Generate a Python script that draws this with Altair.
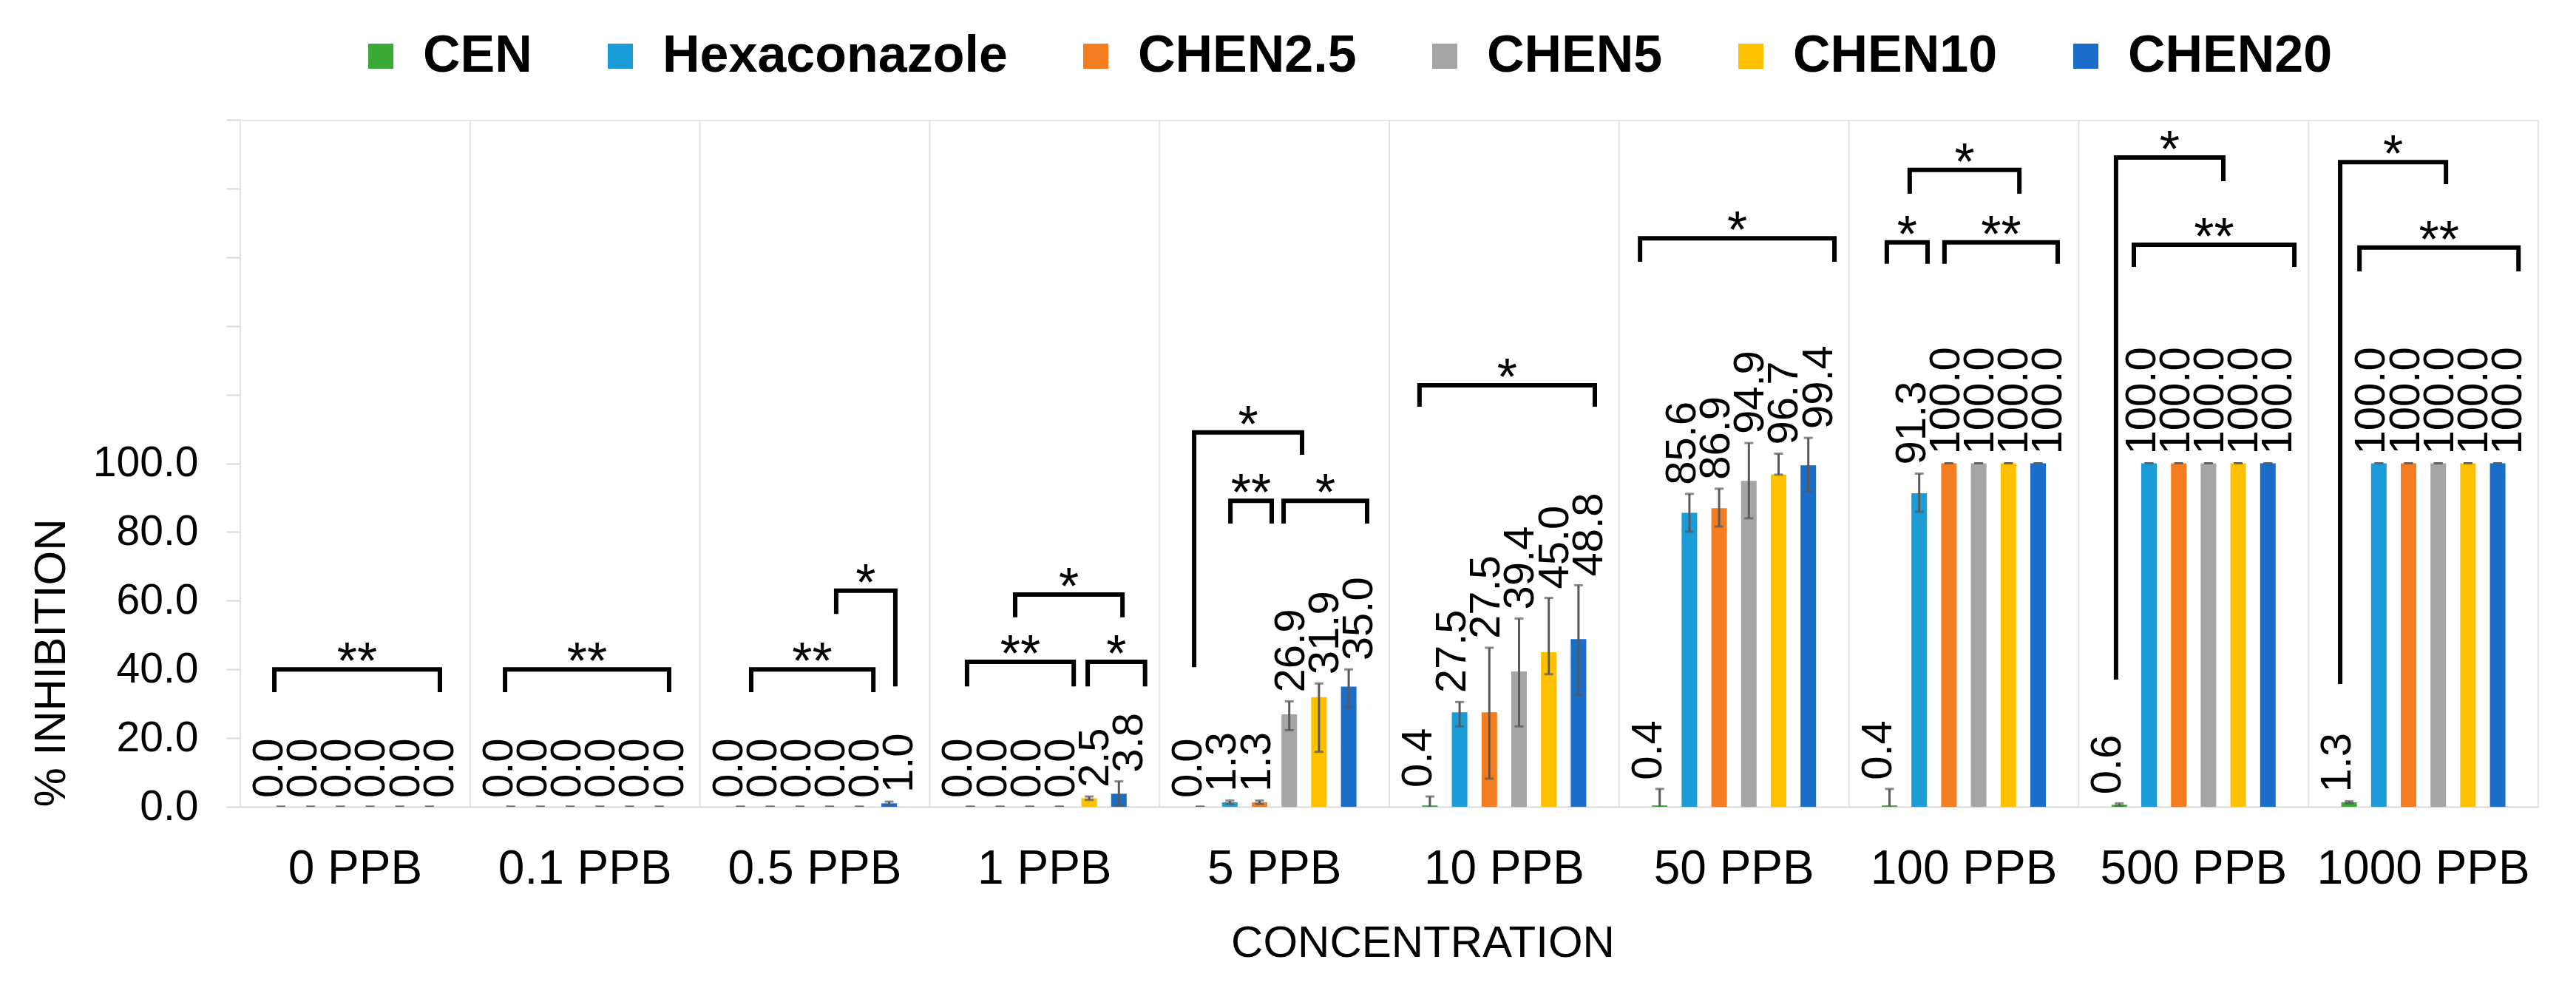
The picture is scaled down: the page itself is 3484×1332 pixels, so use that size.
import altair as alt
import pandas as pd

# ---------------- data ----------------
concentrations = ["0 PPB", "0.1 PPB", "0.5 PPB", "1 PPB", "5 PPB", "10 PPB",
                  "50 PPB", "100 PPB", "500 PPB", "1000 PPB"]
series = ["CEN", "Hexaconazole", "CHEN2.5", "CHEN5", "CHEN10", "CHEN20"]
colors = ["#3BA936", "#1B9BD8", "#F47D22", "#A5A5A5", "#FFC000", "#1A6EC8"]

cen     = [0.0, 0.0, 0.0, 0.0, 0.0, 0.4, 0.4, 0.4, 0.6, 1.3]
hexa    = [0.0, 0.0, 0.0, 0.0, 1.3, 27.5, 85.6, 91.3, 100.0, 100.0]
chen2_5 = [0.0, 0.0, 0.0, 0.0, 1.3, 27.5, 86.9, 100.0, 100.0, 100.0]
chen5   = [0.0, 0.0, 0.0, 0.0, 26.9, 39.4, 94.9, 100.0, 100.0, 100.0]
chen10  = [0.0, 0.0, 0.0, 2.5, 31.9, 45.0, 96.7, 100.0, 100.0, 100.0]
chen20  = [0.0, 0.0, 1.0, 3.8, 35.0, 48.8, 99.4, 100.0, 100.0, 100.0]

# error bar extents (upper / lower amounts)
cen_up     = [0, 0, 0, 0, 0, 2.6, 4.8, 4.8, 0.4, 0.3]
cen_dn     = [0, 0, 0, 0, 0, 2.6, 4.8, 4.8, 0.4, 0.3]
hexa_up    = [0, 0, 0, 0, 0.5, 3.0, 5.5, 5.7, 0, 0]
hexa_dn    = [0, 0, 0, 0, 0.5, 4.1, 5.5, 5.4, 0, 0]
chen2_5_up = [0, 0, 0, 0, 0.5, 18.8, 5.7, 0, 0, 0]
chen2_5_dn = [0, 0, 0, 0, 0.5, 19.3, 5.3, 0, 0, 0]
chen5_up   = [0, 0, 0, 0, 3.8, 15.4, 11.0, 0, 0, 0]
chen5_dn   = [0, 0, 0, 0, 4.6, 16.0, 10.9, 0, 0, 0]
chen10_up  = [0, 0, 0, 0.5, 4.0, 15.8, 6.1, 0, 0, 0]
chen10_dn  = [0, 0, 0, 0.5, 15.9, 6.4, 0, 0, 0, 0]
chen20_up  = [0, 0, 0.5, 3.6, 5.0, 15.7, 8.0, 0, 0, 0]
chen20_dn  = [0, 0, 0.5, 3.6, 6.0, 16.3, 7.6, 0, 0, 0]

# significance brackets (series-index units for the legs, % units for heights)
br_conc      = ["0 PPB", "0.1 PPB", "0.5 PPB", "0.5 PPB", "1 PPB", "1 PPB", "1 PPB",
                "5 PPB", "5 PPB", "5 PPB", "10 PPB", "50 PPB",
                "100 PPB", "100 PPB", "100 PPB", "500 PPB", "500 PPB", "1000 PPB", "1000 PPB"]
br_left      = [-0.22, -0.19, 0.36, 3.22, -0.11, 3.95, 1.51,
                -0.20, 1.02, 2.81, -0.35, -0.66,
                -0.09, 1.85, 0.68, -0.11, 0.49, -0.30, 0.35]
br_right     = [5.35, 5.33, 4.47, 5.21, 3.48, 5.88, 5.12,
                3.43, 2.41, 5.62, 5.55, 5.88,
                1.28, 5.66, 4.37, 3.50, 5.89, 3.26, 5.70]
br_top       = [40.0, 40.0, 40.0, 62.9, 42.2, 42.2, 61.8,
                109.0, 89.1, 89.1, 122.7, 165.5,
                164.3, 164.3, 185.4, 189.0, 163.6, 187.7, 162.8]
br_left_end  = [34.0, 34.0, 34.0, 56.8, 35.7, 35.7, 55.8,
                41.3, 83.1, 83.1, 117.1, 159.3,
                158.7, 158.7, 179.1, 37.7, 157.8, 36.4, 156.5]
br_right_end = [34.0, 34.0, 34.0, 35.7, 35.7, 35.7, 55.8,
                103.1, 83.1, 83.1, 117.1, 159.3,
                158.7, 158.7, 179.1, 182.8, 157.8, 181.9, 156.5]
br_label     = ["**", "**", "**", "*", "**", "*", "*",
                "*", "**", "*", "*", "*",
                "*", "**", "*", "*", "**", "*", "**"]

y_ticks = [0, 20, 40, 60, 80, 100, 120, 140, 160, 180, 200]

# ---------------- tables ----------------
vals = {"CEN": cen, "Hexaconazole": hexa, "CHEN2.5": chen2_5,
        "CHEN5": chen5, "CHEN10": chen10, "CHEN20": chen20}
ups = {"CEN": cen_up, "Hexaconazole": hexa_up, "CHEN2.5": chen2_5_up,
       "CHEN5": chen5_up, "CHEN10": chen10_up, "CHEN20": chen20_up}
dns = {"CEN": cen_dn, "Hexaconazole": hexa_dn, "CHEN2.5": chen2_5_dn,
       "CHEN5": chen5_dn, "CHEN10": chen10_dn, "CHEN20": chen20_dn}

rows = []
for i, c in enumerate(concentrations):
    for s in series:
        v = vals[s][i]
        rows.append({"conc": c, "series": s, "value": v,
                     "hi": v + ups[s][i], "lo": v - dns[s][i]})
df = pd.DataFrame(rows)

brow = []
for b in range(len(br_conc)):
    pts = [(br_left[b], br_left_end[b]), (br_left[b], br_top[b]),
           (br_right[b], br_top[b]), (br_right[b], br_right_end[b])]
    for k, (p, yv) in enumerate(pts):
        brow.append({"bid": b, "k": k, "conc": br_conc[b], "pos": p, "y": yv})
br_df = pd.DataFrame(brow)
st_df = pd.DataFrame({"conc": br_conc,
                      "pos": [(l + r) / 2 for l, r in zip(br_left, br_right)],
                      "y": br_top, "label": br_label})
grid_df = pd.DataFrame({"conc": concentrations})
edge_df = pd.DataFrame({"conc": concentrations[-1:]})

# ---------------- encodings ----------------
FONT = "Liberation Sans"
W, H = 3108, 929
band_w = W / len(concentrations)
p_out = 0.866
off_lo = -(p_out + 0.5)
off_hi = off_lo + (len(series) + 2 * p_out)

x_scale = alt.Scale(paddingInner=0, paddingOuter=0)
x_axis = alt.Axis(labelAngle=0, ticks=False, grid=False, labelPadding=52,
                  labelFontSize=64, labelFont=FONT, labelColor="black", labelLimit=1000,
                  domainColor="#D9D9D9", domainWidth=2,
                  titleFontSize=60, titleFont=FONT, titleFontWeight="normal",
                  titleColor="black", titleX=1599, titleY=202,
                  titleBaseline="alphabetic")
y_scale = alt.Scale(domain=[0, 200], nice=False, zero=False)
y_axis = alt.Axis(values=y_ticks, grid=False, domain=False,
                  labelExpr="datum.value <= 100 ? format(datum.value, '.1f') : ''",
                  tickColor="#D9D9D9", tickSize=19, tickWidth=2, labelPadding=38,
                  labelFontSize=57, labelFont=FONT, labelColor="black",
                  titleFontSize=60, titleFont=FONT, titleFontWeight="normal",
                  titleColor="black", titleAnchor="start", titlePadding=25)

XT, YT = "CONCENTRATION", "% INHIBITION"


def xenc(band=None):
    if band is None:
        return alt.X("conc:N", sort=concentrations, scale=x_scale, axis=x_axis, title=XT)
    return alt.X("conc:N", sort=concentrations, scale=x_scale, axis=x_axis, title=XT,
                 bandPosition=band)


def yenc(field):
    return alt.Y(field, scale=y_scale, axis=y_axis, title=YT)


xoff_nom = alt.XOffset("series:N", sort=series,
                       scale=alt.Scale(domain=series, paddingInner=0, paddingOuter=p_out))
xoff_q = alt.XOffset("pos:Q", scale=alt.Scale(domain=[off_lo, off_hi], range=[0, band_w]))

grid = alt.Chart(grid_df).mark_rule(color="#E3E3E3", strokeWidth=2).encode(x=xenc(0))
edge = alt.Chart(edge_df).mark_rule(color="#E3E3E3", strokeWidth=2).encode(x=xenc(1))

bars = alt.Chart(df).mark_bar(width=21).encode(
    x=xenc(), xOffset=xoff_nom, y=yenc("value:Q"),
    color=alt.Color("series:N", sort=series,
                    scale=alt.Scale(domain=series, range=colors),
                    legend=alt.Legend(title=None, orient="none", direction="horizontal",
                                      legendX=155, legendY=-121, padding=0,
                                      symbolType="square", symbolSize=1156,
                                      symbolStrokeWidth=0, labelFontSize=70,
                                      labelFontWeight="bold", labelFont=FONT,
                                      labelColor="black", columnPadding=84,
                                      labelOffset=22, labelLimit=1000)))

err = alt.Chart(df).mark_rule(color="#595959", strokeWidth=3, clip=True).encode(
    x=xenc(), xOffset=xoff_nom, y=yenc("lo:Q"), y2="hi:Q")
cap_hi = alt.Chart(df).mark_tick(color="#595959", size=12, thickness=3,
                                 orient="horizontal", clip=True).encode(
    x=xenc(), xOffset=xoff_nom, y=yenc("hi:Q"))
cap_lo = alt.Chart(df).mark_tick(color="#595959", size=12, thickness=3,
                                 orient="horizontal", clip=True).encode(
    x=xenc(), xOffset=xoff_nom, y=yenc("lo:Q"))

labels = alt.Chart(df).mark_text(angle=270, align="left", baseline="middle", dx=12,
                                 fontSize=58, font=FONT, color="black").encode(
    x=xenc(), xOffset=xoff_nom, y=yenc("hi:Q"),
    text=alt.Text("value:Q", format=".1f"))

brackets = alt.Chart(br_df).mark_line(color="black", strokeWidth=6,
                                      strokeJoin="miter", strokeCap="square").encode(
    x=xenc(0), xOffset=xoff_q, y=yenc("y:Q"), detail="bid:N", order="k:Q")

stars = alt.Chart(st_df).mark_text(fontSize=70, font=FONT, baseline="alphabetic",
                                   align="center", dy=13, color="black").encode(
    x=xenc(0), xOffset=xoff_q, y=yenc("y:Q"), text="label:N")

chart = alt.layer(grid, edge, bars, err, cap_hi, cap_lo, labels, brackets, stars).resolve_scale(
    xOffset="independent"
).properties(
    width=W, height=H,
    autosize=alt.AutoSizeParams(type="none"),
    padding={"left": 317, "top": 154, "right": 43, "bottom": 233},
).configure_view(stroke=None).configure(background="white")

chart.save("out.html", embed_options={"renderer": "svg", "actions": False})
